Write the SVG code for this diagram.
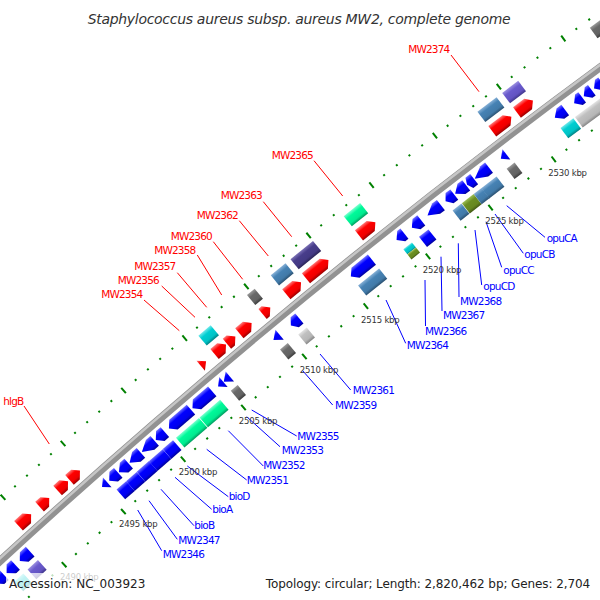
<svg xmlns="http://www.w3.org/2000/svg" width="600" height="600" viewBox="0 0 600 600">
<style>
.R{fill:url(#gR)}.B{fill:url(#gB)}.SB{fill:url(#gSB)}.DS{fill:url(#gDS)}.SL{fill:url(#gSL)}.SG{fill:url(#gSG)}.DG{fill:url(#gDG)}.LG{fill:url(#gLG)}.DT{fill:url(#gDT)}.OD{fill:url(#gOD)}
.lr{font-family:"DejaVu Sans",sans-serif;font-size:10.5px;fill:#f00;text-anchor:end;letter-spacing:-0.8px}
.lb{font-family:"DejaVu Sans",sans-serif;font-size:10.5px;fill:#00f;letter-spacing:-0.8px}
.tk{font-family:"DejaVu Sans",sans-serif;font-size:8.5px;fill:#333;text-anchor:middle;letter-spacing:-0.2px}
.cr{stroke:#f00;stroke-width:1}.cb{stroke:#00f;stroke-width:1}
.lg{font-family:"DejaVu Sans",sans-serif;font-size:12px;fill:#222}
</style>
<defs>
<linearGradient id="gR" x2="0" y2="1"><stop offset="0" stop-color="#ff7a7a"/><stop offset=".3" stop-color="#f00"/><stop offset=".75" stop-color="#e00"/><stop offset="1" stop-color="#900"/></linearGradient>
<linearGradient id="gB" x2="0" y2="1"><stop offset="0" stop-color="#7070ff"/><stop offset=".3" stop-color="#00f"/><stop offset=".75" stop-color="#00e"/><stop offset="1" stop-color="#009"/></linearGradient>
<linearGradient id="gSB" x2="0" y2="1"><stop offset="0" stop-color="#86b0d6"/><stop offset=".3" stop-color="#4682b4"/><stop offset=".75" stop-color="#427aa8"/><stop offset="1" stop-color="#2a5070"/></linearGradient>
<linearGradient id="gDS" x2="0" y2="1"><stop offset="0" stop-color="#7a70b5"/><stop offset=".3" stop-color="#483d8b"/><stop offset=".75" stop-color="#433983"/><stop offset="1" stop-color="#2a2455"/></linearGradient>
<linearGradient id="gSL" x2="0" y2="1"><stop offset="0" stop-color="#9a8fe0"/><stop offset=".3" stop-color="#6a5acd"/><stop offset=".75" stop-color="#6353c2"/><stop offset="1" stop-color="#40368a"/></linearGradient>
<linearGradient id="gSG" x2="0" y2="1"><stop offset="0" stop-color="#7affcf"/><stop offset=".3" stop-color="#00fa9a"/><stop offset=".75" stop-color="#00eb90"/><stop offset="1" stop-color="#009a5e"/></linearGradient>
<linearGradient id="gDG" x2="0" y2="1"><stop offset="0" stop-color="#9a9a9a"/><stop offset=".3" stop-color="#696969"/><stop offset=".75" stop-color="#636363"/><stop offset="1" stop-color="#3c3c3c"/></linearGradient>
<linearGradient id="gLG" x2="0" y2="1"><stop offset="0" stop-color="#e4e4e4"/><stop offset=".3" stop-color="#c0c0c0"/><stop offset=".75" stop-color="#b6b6b6"/><stop offset="1" stop-color="#858585"/></linearGradient>
<linearGradient id="gDT" x2="0" y2="1"><stop offset="0" stop-color="#70e8ea"/><stop offset=".3" stop-color="#00ced1"/><stop offset=".75" stop-color="#00c2c5"/><stop offset="1" stop-color="#008082"/></linearGradient>
<linearGradient id="gOD" x2="0" y2="1"><stop offset="0" stop-color="#9cbf55"/><stop offset=".3" stop-color="#6b8e23"/><stop offset=".75" stop-color="#668720"/><stop offset="1" stop-color="#415715"/></linearGradient>
<g id="tm"><rect x="-1" y="-7227" width="2" height="2"/><rect x="-1" y="-7136" width="2" height="2"/></g>
<g id="tM"><rect x="-1" y="-7229.5" width="2" height="7"/><rect x="-1" y="-7138.5" width="2" height="7"/></g>
</defs>
<rect width="600" height="600" fill="#fff"/>
<g id="map" transform="translate(4855 5852)">
<g id="backbone" fill="none">
<path d="M-4943-5208.9A7181 7181 0 0 1-4149.6-5860.7" stroke="#929292" stroke-width="8"/>
<path d="M-4944.4-5210.3A7183 7183 0 0 1-4150.8-5862.3" stroke="#c6c6c6" stroke-width="2.5"/>
</g>
<g id="ticks" fill="#008000">
<use href="#tm" transform="rotate(-42.945)"/><use href="#tM" transform="rotate(-42.818)"/><use href="#tm" transform="rotate(-42.690)"/><use href="#tm" transform="rotate(-42.563)"/><use href="#tm" transform="rotate(-42.435)"/><use href="#tm" transform="rotate(-42.307)"/>
<use href="#tM" transform="rotate(-42.180)"/><use href="#tm" transform="rotate(-42.052)"/><use href="#tm" transform="rotate(-41.924)"/><use href="#tm" transform="rotate(-41.797)"/><use href="#tm" transform="rotate(-41.669)"/>
<use href="#tM" transform="rotate(-41.541)"/><use href="#tm" transform="rotate(-41.414)"/><use href="#tm" transform="rotate(-41.286)"/><use href="#tm" transform="rotate(-41.159)"/><use href="#tm" transform="rotate(-41.031)"/>
<use href="#tM" transform="rotate(-40.903)"/><use href="#tm" transform="rotate(-40.776)"/><use href="#tm" transform="rotate(-40.648)"/><use href="#tm" transform="rotate(-40.520)"/><use href="#tm" transform="rotate(-40.393)"/>
<use href="#tM" transform="rotate(-40.265)"/><use href="#tm" transform="rotate(-40.137)"/><use href="#tm" transform="rotate(-40.010)"/><use href="#tm" transform="rotate(-39.882)"/><use href="#tm" transform="rotate(-39.755)"/>
<use href="#tM" transform="rotate(-39.627)"/><use href="#tm" transform="rotate(-39.499)"/><use href="#tm" transform="rotate(-39.372)"/><use href="#tm" transform="rotate(-39.244)"/><use href="#tm" transform="rotate(-39.116)"/>
<use href="#tM" transform="rotate(-38.989)"/><use href="#tm" transform="rotate(-38.861)"/><use href="#tm" transform="rotate(-38.733)"/><use href="#tm" transform="rotate(-38.606)"/><use href="#tm" transform="rotate(-38.478)"/>
<use href="#tM" transform="rotate(-38.350)"/><use href="#tm" transform="rotate(-38.223)"/><use href="#tm" transform="rotate(-38.095)"/><use href="#tm" transform="rotate(-37.968)"/><use href="#tm" transform="rotate(-37.840)"/>
<use href="#tM" transform="rotate(-37.712)"/><use href="#tm" transform="rotate(-37.585)"/><use href="#tm" transform="rotate(-37.457)"/><use href="#tm" transform="rotate(-37.329)"/><use href="#tm" transform="rotate(-37.202)"/>
<use href="#tM" transform="rotate(-37.074)"/><use href="#tm" transform="rotate(-36.946)"/><use href="#tm" transform="rotate(-36.819)"/><use href="#tm" transform="rotate(-36.691)"/><use href="#tm" transform="rotate(-36.564)"/>
<use href="#tM" transform="rotate(-36.436)"/><use href="#tm" transform="rotate(-36.308)"/><use href="#tm" transform="rotate(-36.181)"/><use href="#tm" transform="rotate(-36.053)"/><use href="#tm" transform="rotate(-35.925)"/>
<use href="#tM" transform="rotate(-35.798)"/>
</g>
<g id="forward">
<g id="f1"><path class="R" transform="rotate(-42.173) translate(0 -7194.5)" d="M-8.5-6.5H2.5L8.5 0 2.5 6.5H-8.5Z"/></g>
<g id="f2"><path class="R" transform="rotate(-41.963) translate(0 -7194.5)" d="M-6.5-6.5H0.5L6.5 0 0.5 6.5H-6.5Z"/></g>
<g id="f3"><path class="R" transform="rotate(-41.766) translate(0 -7194.5)" d="M-7-6.5H1L7 0 1 6.5H-7Z"/></g>
<g id="hlgB"><path class="R" transform="rotate(-41.639) translate(0 -7194.5)" d="M-7-6.5H1L7 0 1 6.5H-7Z"/></g>
<g id="MW2354"><path class="R" transform="rotate(-40.282) translate(0 -7194.5)" d="M-3.5-6.5L3.5 0-3.5 6.5Z"/></g>
<g id="MW2356"><rect class="DT" transform="rotate(-40.106) translate(0 -7212.5)" x="-8" y="-6.5" width="16" height="13"/><path class="R" transform="rotate(-40.106) translate(0 -7194.5)" d="M-7.5-6.5H1.5L7.5 0 1.5 6.5H-7.5Z"/></g>
<g id="MW2357"><path class="R" transform="rotate(-39.993) translate(0 -7194.5)" d="M-5.5-6.5H-0.5L5.5 0-0.5 6.5H-5.5Z"/></g>
<g id="MW2358"><path class="R" transform="rotate(-39.844) translate(0 -7194.5)" d="M-8-6.5H2L8 0 2 6.5H-8Z"/></g>
<g id="MW2360"><rect class="DG" transform="rotate(-39.627) translate(0 -7212.5)" x="-5" y="-6.5" width="10" height="13"/><path class="R" transform="rotate(-39.627) translate(0 -7194.5)" d="M-5-6.5H-1L5 0-1 6.5H-5Z"/></g>
<g id="MW2362"><rect class="SB" transform="rotate(-39.346) translate(0 -7212.5)" x="-9.5" y="-6.5" width="19" height="13"/><path class="R" transform="rotate(-39.346) translate(0 -7194.5)" d="M-9.5-6.5H3.5L9.5 0 3.5 6.5H-9.5Z"/></g>
<g id="MW2363"><rect class="DS" transform="rotate(-39.104) translate(0 -7212.5)" x="-14.5" y="-6.5" width="29" height="13"/><path class="R" transform="rotate(-39.104) translate(0 -7194.5)" d="M-14.5-6.5H8.5L14.5 0 8.5 6.5H-14.5Z"/></g>
<g id="MW2365"><rect class="SG" transform="rotate(-38.593) translate(0 -7212.5)" x="-10.5" y="-6.5" width="21" height="13"/><path class="R" transform="rotate(-38.593) translate(0 -7194.5)" d="M-10.5-6.5H4.5L10.5 0 4.5 6.5H-10.5Z"/></g>
<g id="MW2374"><rect class="SB" transform="rotate(-37.234) translate(0 -7212.5)" x="-12" y="-6.5" width="24" height="13"/><path class="R" transform="rotate(-37.234) translate(0 -7194.5)" d="M-12-6.5H6L12 0 6 6.5H-12Z"/></g>
<g id="f14"><rect class="SL" transform="rotate(-37.003) translate(0 -7212.5)" x="-10" y="-6.5" width="20" height="13"/><path class="R" transform="rotate(-37.003) translate(0 -7194.5)" d="M-10-6.5H4L10 0 4 6.5H-10Z"/></g>
<g id="f15"><rect class="DG" transform="rotate(-36.160) translate(0 -7212.5)" x="-7" y="-6.5" width="14" height="13"/></g>
</g>
<g id="reverse">
<g id="r0"><path class="B" transform="rotate(-42.639) translate(0 -7167.5)" d="M6-6.5H0L-6 0 0 6.5H6Z"/></g>
<g id="r1"><rect class="DT" transform="rotate(-42.518) translate(0 -7149.5)" x="-6" y="-6.5" width="12" height="13"/><path class="B" transform="rotate(-42.518) translate(0 -7167.5)" d="M6-6.5H0L-6 0 0 6.5H6Z"/></g>
<g id="r2"><rect class="SL" transform="rotate(-42.367) translate(0 -7149.5)" x="-7" y="-6.5" width="14" height="13"/><path class="B" transform="rotate(-42.367) translate(0 -7167.5)" d="M7-6.5H-1L-7 0-1 6.5H7Z"/></g>
<g id="r3"><path class="B" transform="rotate(-41.511) translate(0 -7167.5)" d="M3.5-6.5L-3.5 0 3.5 6.5Z"/></g>
<g id="MW2346"><rect class="B" transform="rotate(-41.414) translate(0 -7149.5)" x="-6.4" y="-6.5" width="12.8" height="13"/><path class="B" transform="rotate(-41.414) translate(0 -7167.5)" d="M6-6.5H0L-6 0 0 6.5H6Z"/></g>
<g id="MW2347"><rect class="B" transform="rotate(-41.307) translate(0 -7149.5)" x="-7" y="-6.5" width="14" height="13"/><path class="B" transform="rotate(-41.307) translate(0 -7167.5)" d="M6.5-6.5H0.5L-6.5 0 0.5 6.5H6.5Z"/></g>
<g id="bioB"><rect class="B" transform="rotate(-41.185) translate(0 -7149.5)" x="-8.15" y="-6.5" width="16.3" height="13"/><path class="B" transform="rotate(-41.185) translate(0 -7167.5)" d="M7.5-6.5H1.5L-7.5 0 1.5 6.5H7.5Z"/></g>
<g id="bioA"><rect class="B" transform="rotate(-41.047) translate(0 -7149.5)" x="-9.15" y="-6.5" width="18.3" height="13"/><path class="B" transform="rotate(-41.047) translate(0 -7167.5)" d="M8.5-6.5H2.5L-8.5 0 2.5 6.5H8.5Z"/></g>
<g id="bioD"><rect class="B" transform="rotate(-40.919) translate(0 -7149.5)" x="-6.75" y="-6.5" width="13.5" height="13"/><path class="B" transform="rotate(-40.919) translate(0 -7167.5)" d="M6-6.5H0L-6 0 0 6.5H6Z"/></g>
<g id="MW2351"><rect class="SG" transform="rotate(-40.712) translate(0 -7149.5)" x="-15.15" y="-6.5" width="30.3" height="13"/><path class="B" transform="rotate(-40.712) translate(0 -7167.5)" d="M14.5-6.5H-8.5L-14.5 0-8.5 6.5H14.5Z"/></g>
<g id="MW2352"><rect class="SG" transform="rotate(-40.476) translate(0 -7149.5)" x="-13.55" y="-6.5" width="27.1" height="13"/><path class="B" transform="rotate(-40.476) translate(0 -7167.5)" d="M13-6.5H-7L-13 0-7 6.5H13Z"/></g>
<g id="MW2353"><path class="B" transform="rotate(-40.283) translate(0 -7167.5)" d="M3.5-6.5L-3.5 0 3.5 6.5Z"/></g>
<g id="MW2355"><rect class="DG" transform="rotate(-40.220) translate(0 -7149.5)" x="-4.5" y="-6.5" width="9" height="13"/><path class="B" transform="rotate(-40.220) translate(0 -7167.5)" d="M4-6.5L-4 0 4 6.5Z"/></g>
<g id="MW2359"><rect class="DG" transform="rotate(-39.701) translate(0 -7149.5)" x="-5" y="-6.5" width="10" height="13"/><path class="B" transform="rotate(-39.701) translate(0 -7167.5)" d="M4-6.5L-4 0 4 6.5Z"/></g>
<g id="MW2361"><rect class="LG" transform="rotate(-39.508) translate(0 -7149.5)" x="-5.5" y="-6.5" width="11" height="13"/><path class="B" transform="rotate(-39.508) translate(0 -7167.5)" d="M5.5-6.5H-0.5L-5.5 0-0.5 6.5H5.5Z"/></g>
<g id="MW2364"><rect class="SB" transform="rotate(-38.825) translate(0 -7149.5)" x="-13.5" y="-6.5" width="27" height="13"/><path class="B" transform="rotate(-38.825) translate(0 -7167.5)" d="M13.5-6.5H-7.5L-13.5 0-7.5 6.5H13.5Z"/></g>
<g id="MW2366"><rect class="DT" transform="rotate(-38.425) translate(0 -7149.5)" x="-5.5" y="-6.5" width="11" height="6.5"/><rect class="OD" transform="rotate(-38.425) translate(0 -7149.5)" x="-5.5" y="0" width="11" height="6.5"/><path class="B" transform="rotate(-38.425) translate(0 -7167.5)" d="M5-6.5H1L-5 0 1 6.5H5Z"/></g>
<g id="MW2367"><rect class="B" transform="rotate(-38.261) translate(0 -7149.5)" x="-6" y="-6.5" width="12" height="13"/><path class="B" transform="rotate(-38.261) translate(0 -7167.5)" d="M6-6.5H0L-6 0 0 6.5H6Z"/></g>
<g id="MW2368"><path class="B" transform="rotate(-38.082) translate(0 -7167.5)" d="M8.5-6.5H2.5L-8.5 0 2.5 6.5H8.5Z"/></g>
<g id="opuCD"><rect class="SB" transform="rotate(-37.922) translate(0 -7149.5)" x="-5.6" y="-6.5" width="11.2" height="13"/><path class="B" transform="rotate(-37.922) translate(0 -7167.5)" d="M5.5-6.5H-0.5L-5.5 0-0.5 6.5H5.5Z"/></g>
<g id="opuCC"><rect class="OD" transform="rotate(-37.813) translate(0 -7149.5)" x="-7.45" y="-6.5" width="14.9" height="13"/><path class="B" transform="rotate(-37.813) translate(0 -7167.5)" d="M7-6.5H1L-7 0 1 6.5H7Z"/></g>
<g id="opuCB"><rect class="SB" transform="rotate(-37.713) translate(0 -7149.5)" x="-4.95" y="-6.5" width="9.9" height="13"/><path class="B" transform="rotate(-37.713) translate(0 -7167.5)" d="M4.5-6.5H-1.5L-4.5 0-1.5 6.5H4.5Z"/></g>
<g id="opuCA"><rect class="SB" transform="rotate(-37.599) translate(0 -7149.5)" x="-9.6" y="-6.5" width="19.2" height="13"/><path class="B" transform="rotate(-37.599) translate(0 -7167.5)" d="M9-6.5H3L-9 0 3 6.5H9Z"/></g>
<g id="r23"><rect class="DG" transform="rotate(-37.380) translate(0 -7149.5)" x="-5" y="-6.5" width="10" height="13"/><path class="B" transform="rotate(-37.380) translate(0 -7167.5)" d="M3.5-6.5L-3.5 0 3.5 6.5Z"/></g>
<g id="r24"><rect class="DT" transform="rotate(-36.815) translate(0 -7149.5)" x="-8" y="-6.5" width="16" height="13"/><path class="B" transform="rotate(-36.815) translate(0 -7167.5)" d="M6.5-6.5H0.5L-6.5 0 0.5 6.5H6.5Z"/></g>
<g id="r25"><rect class="LG" transform="rotate(-36.554) translate(0 -7149.5)" x="-22.5" y="-6.5" width="45" height="13"/><path class="B" transform="rotate(-36.634) translate(0 -7167.5)" d="M5-6.5H1L-5 0 1 6.5H5Z"/></g>
<g id="r26"><path class="B" transform="rotate(-36.538) translate(0 -7167.5)" d="M5-6.5H1L-5 0 1 6.5H5Z"/></g>
<g id="r27"><path class="B" transform="rotate(-36.436) translate(0 -7167.5)" d="M5-6.5H1L-5 0 1 6.5H5Z"/></g>
</g>
</g>
<g id="connectors" fill="none">
<line class="cr" x1="24" y1="406" x2="49.3" y2="444"/>
<line class="cr" x1="144" y1="300" x2="179.3" y2="330.7"/>
<line class="cr" x1="161.7" y1="286" x2="195" y2="317.3"/>
<line class="cr" x1="177.3" y1="272.7" x2="206.7" y2="307.3"/>
<line class="cr" x1="197.3" y1="255" x2="221.7" y2="295"/>
<line class="cr" x1="213.3" y1="241.7" x2="242.7" y2="279.3"/>
<line class="cr" x1="239.3" y1="220.7" x2="268.3" y2="256"/>
<line class="cr" x1="263.3" y1="201.7" x2="291.7" y2="236.7"/>
<line class="cr" x1="314" y1="160.7" x2="342.7" y2="196"/>
<line class="cr" x1="451" y1="55" x2="479" y2="91.7"/>
<line class="cb" x1="161.7" y1="550.7" x2="137.7" y2="510"/>
<line class="cb" x1="177.3" y1="539.3" x2="149" y2="500.7"/>
<line class="cb" x1="194" y1="525.7" x2="161" y2="489.3"/>
<line class="cb" x1="211.7" y1="509.3" x2="175" y2="477.3"/>
<line class="cb" x1="228.3" y1="496.7" x2="187.3" y2="466"/>
<line class="cb" x1="246.7" y1="480" x2="206.7" y2="449.3"/>
<line class="cb" x1="263.3" y1="466" x2="228.3" y2="430.7"/>
<line class="cb" x1="280" y1="446.7" x2="246.7" y2="416.7"/>
<line class="cb" x1="296.7" y1="436" x2="251.7" y2="410"/>
<line class="cb" x1="332.7" y1="405" x2="302.7" y2="370.7"/>
<line class="cb" x1="350.7" y1="390" x2="320" y2="354"/>
<line class="cb" x1="405.7" y1="343.3" x2="386" y2="300"/>
<line class="cb" x1="425.5" y1="326" x2="425" y2="280"/>
<line class="cb" x1="442" y1="311" x2="441" y2="256.7"/>
<line class="cb" x1="459" y1="297" x2="458.3" y2="243.3"/>
<line class="cb" x1="481.7" y1="285" x2="475" y2="230"/>
<line class="cb" x1="501.7" y1="267.3" x2="486" y2="221.7"/>
<line class="cb" x1="523.3" y1="253.3" x2="495" y2="214"/>
<line class="cb" x1="545" y1="237.3" x2="506.7" y2="205.7"/>
</g>
<g id="labels">
<text class="lr" x="23.5" y="404.5">hlgB</text>
<text class="lr" x="142.5" y="298">MW2354</text>
<text class="lr" x="159" y="284">MW2356</text>
<text class="lr" x="175.5" y="270">MW2357</text>
<text class="lr" x="195.5" y="253.5">MW2358</text>
<text class="lr" x="212" y="239.5">MW2360</text>
<text class="lr" x="238" y="219">MW2362</text>
<text class="lr" x="262" y="199">MW2363</text>
<text class="lr" x="313" y="159">MW2365</text>
<text class="lr" x="449.5" y="53">MW2374</text>
<text class="lb" x="162.7" y="558">MW2346</text>
<text class="lb" x="178.3" y="544">MW2347</text>
<text class="lb" x="194.3" y="529">bioB</text>
<text class="lb" x="212.3" y="513">bioA</text>
<text class="lb" x="228.7" y="500">bioD</text>
<text class="lb" x="246.7" y="484">MW2351</text>
<text class="lb" x="263.3" y="469">MW2352</text>
<text class="lb" x="281.7" y="454">MW2353</text>
<text class="lb" x="297.3" y="440">MW2355</text>
<text class="lb" x="335" y="409">MW2359</text>
<text class="lb" x="352.7" y="394">MW2361</text>
<text class="lb" x="406.7" y="349">MW2364</text>
<text class="lb" x="425" y="335">MW2366</text>
<text class="lb" x="443" y="319">MW2367</text>
<text class="lb" x="460" y="305">MW2368</text>
<text class="lb" x="483.3" y="290">opuCD</text>
<text class="lb" x="503.3" y="273.5">opuCC</text>
<text class="lb" x="524.3" y="258">opuCB</text>
<text class="lb" x="546.7" y="242">opuCA</text>
</g>
<g id="tick-labels">
<text class="tk" x="79.3" y="580.2">2490 kbp</text>
<text class="tk" x="138.3" y="527.4">2495 kbp</text>
<text class="tk" x="198" y="475.1">2500 kbp</text>
<text class="tk" x="258.1" y="423.6">2505 kbp</text>
<text class="tk" x="319" y="372.7">2510 kbp</text>
<text class="tk" x="380.3" y="322.5">2515 kbp</text>
<text class="tk" x="442.1" y="273.1">2520 kbp</text>
<text class="tk" x="504.5" y="224.3">2525 kbp</text>
<text class="tk" x="567.6" y="176.1">2530 kbp</text>
</g>
<g id="legend">
<rect x="6" y="573" width="141" height="22" fill="#fff" fill-opacity="0.75"/>
<text class="lg" x="9" y="587.5">Accession: NC_003923</text>
<text class="lg" x="590" y="587.5" text-anchor="end" letter-spacing="-0.1">Topology: circular; Length: 2,820,462 bp; Genes: 2,704</text>
</g>
<text id="title" x="299" y="23.5" font-family="DejaVu Sans, sans-serif" font-size="14" font-style="italic" fill="#333" text-anchor="middle" letter-spacing="-0.3">Staphylococcus aureus subsp. aureus MW2, complete genome</text>
</svg>
